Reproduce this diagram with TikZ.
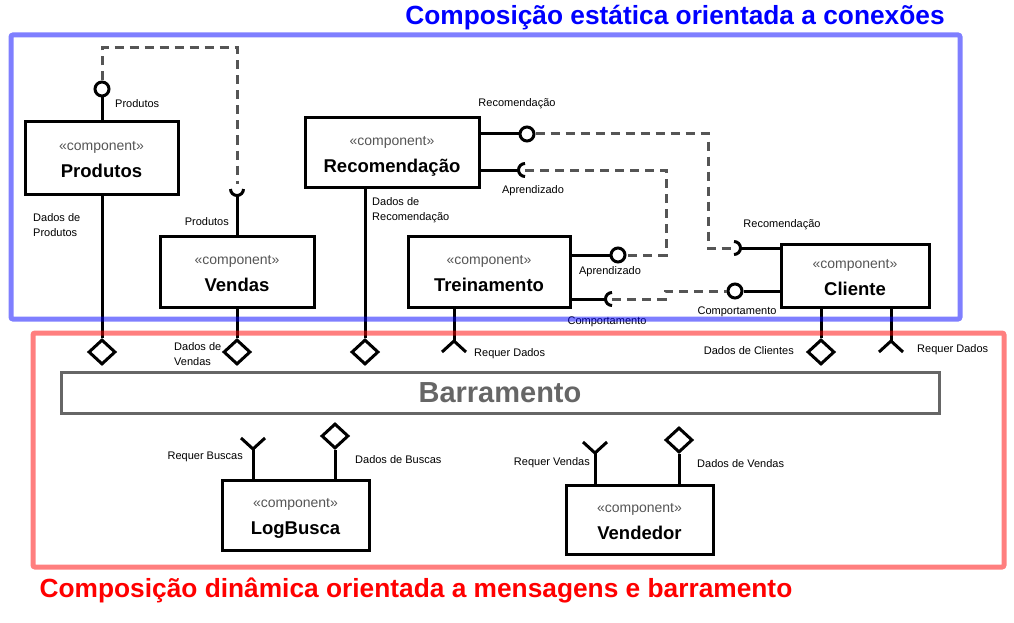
\documentclass[tikz,border=0pt]{standalone}
\usepackage{fontspec}
\setmainfont{Liberation Sans}
\usepackage{xcolor}
\usepackage{tikz}
\usetikzlibrary{positioning,shapes.geometric}

\definecolor{stereo}{HTML}{555555}
\definecolor{depgray}{HTML}{555555}
\definecolor{busgray}{HTML}{666666}
\definecolor{titleblue}{HTML}{0000FF}
\definecolor{titlered}{HTML}{FF0000}

\newcommand{\cmpnt}[1]{{\fontsize{14}{16}\selectfont\color{stereo}\rule{0pt}{17.5pt}«component»}\\[10pt]{\fontsize{18.5}{22}\selectfont\bfseries #1\rule[-5pt]{0pt}{5pt}}}

\begin{document}
\begin{tikzpicture}[x=1pt, y=-1pt,
  comp/.style={draw, line width=3pt, align=center, inner sep=0pt},
  wire/.style={line width=3pt},
  dep/.style={line width=3pt, depgray, dash pattern=on 9pt off 6pt},
  lolli/.style={circle, draw, line width=3pt, minimum size=14pt, inner sep=0pt},
  prov/.style={diamond, draw, line width=3pt, minimum width=27pt, minimum height=25pt, inner sep=0pt},
  lbl/.style={font=\fontsize{11}{15}\selectfont, align=left, inner sep=0pt},
  frame/.style={line width=5pt, draw opacity=.5, rounded corners=2pt}]
\useasboundingbox (0,0) rectangle (1014,623);

% componentes
\node[comp, minimum width=153pt, minimum height=72pt] (produtos) at (101.5,158) {\cmpnt{Produtos}};
\node[comp, minimum width=154pt, minimum height=71pt] (vendas) at (237,271.5) {\cmpnt{Vendas}};
\node[comp, minimum width=174pt, minimum height=69pt] (recom) at (392,152.5) {\cmpnt{Recomendação}};
\node[comp, minimum width=162pt, minimum height=71pt] (treino) at (489,271.5) {\cmpnt{Treinamento}};
\node[comp, minimum width=148pt, minimum height=63pt] (cliente) at (855,275.5) {\cmpnt{Cliente}};
\node[comp, minimum width=147pt, minimum height=70pt] (logbusca) at (295.5,515) {\cmpnt{LogBusca}};
\node[comp, minimum width=147pt, minimum height=69pt] (vendedor) at (639.5,519.5) {\cmpnt{Vendedor}};
\node[draw=busgray, line width=3pt, minimum width=878pt, minimum height=41pt, text=busgray,
      font=\fontsize{29}{32}\selectfont\bfseries] (bus) at (500,393) {Barramento};

% interfaces fornecidas / requeridas
\node[lolli] (iProd) at (102,89) {};
\node[lolli] (iRec) at (527,134) {};
\node[lolli] (iTreA) at (618,255) {};
\node[lolli] (iCliC) at (735,291) {};
\coordinate (sVend) at (237,189);
\coordinate (sRecA) at (525,170);
\coordinate (sTreC) at (612,299);
\coordinate (sCliR) at (734,248);

\draw[wire] (produtos.north -| iProd) -- (iProd.south);
\draw[wire] (recom.east |- iRec) -- (iRec.west);
\draw[wire] (treino.east |- iTreA) -- (iTreA.west);
\draw[wire] (cliente.west |- iCliC) -- (iCliC.east);
\draw[wire] ([xshift=-6.5pt]sVend) arc[start angle=180, end angle=360, radius=6.5pt];
\draw[wire] ([yshift=-6.5pt]sVend) -- (vendas.north -| sVend);
\draw[wire] ([yshift=6.5pt]sRecA) arc[start angle=90, end angle=270, radius=6.5pt];
\draw[wire] (recom.east |- sRecA) -- ([xshift=-6.5pt]sRecA);
\draw[wire] ([yshift=6.5pt]sTreC) arc[start angle=90, end angle=270, radius=6.5pt];
\draw[wire] (treino.east |- sTreC) -- ([xshift=-6.5pt]sTreC);
\draw[wire] ([yshift=-6.5pt]sCliR) arc[start angle=-90, end angle=90, radius=6.5pt];
\draw[wire] ([xshift=6.5pt]sCliR) -- (cliente.west |- sCliR);

% dependencias tracejadas
\draw[dep] (iProd.north) |- (170,48) -| ([yshift=5pt]sVend);
\draw[dep] (iRec.east) -| (708,200) |- (sCliR);
\draw[dep] (sRecA) -| (666,210) |- (iTreA.east);
\draw[dep] (sTreC) -| (665,295) |- (iCliC.west);

% portas no barramento
\foreach \n/\c/\x in {dProd/produtos/102, dVen/vendas/237, dRec/recom/365, dCli/cliente/821} {
  \node[prov] (\n) at (\x,352) {};
  \draw[wire] (\c.south -| \n) -- (\n.north);
}
\foreach \n/\c/\x in {rTre/treino/454, rCli/cliente/891} {
  \coordinate (\n) at (\x,341);
  \draw[wire] (\c.south -| \n) -- (\n);
  \draw[wire] ([shift={(-12pt,-11pt)}]\n) -- (\n) -- ([shift={(12pt,-11pt)}]\n);
}
\node[prov] (dLog) at (335,436) {};
\node[prov] (dVdd) at (679,440) {};
\draw[wire] (logbusca.north -| dLog) -- (dLog.south);
\draw[wire] (vendedor.north -| dVdd) -- (dVdd.south);
\coordinate (rLog) at (253,449);
\coordinate (rVdd) at (595,453);
\foreach \n/\c in {rLog/logbusca, rVdd/vendedor} {
  \draw[wire] (\c.north -| \n) -- (\n);
  \draw[wire] ([shift={(-12pt,11pt)}]\n) -- (\n) -- ([shift={(12pt,11pt)}]\n);
}

% rotulos
\node[lbl, anchor=west] (lProd) at (115,104) {Produtos};
\node[lbl, anchor=west] (lDProd) at (33,225.5) {Dados de\\Produtos};
\node[lbl, anchor=east] (lVProd) at (229,222) {Produtos};
\node[lbl, anchor=west] (lDVen) at (174,354) {Dados de\\Vendas};
\node[lbl, anchor=west] (lDRec) at (372,210) {Dados de\\Recomendação};
\node[lbl] (lRec) at (517,104) {Recomendação};
\node[lbl] (lAprR) at (533,191) {Aprendizado};
\node[lbl] (lAprT) at (610,272) {Aprendizado};
\node[lbl] (lRecC) at (782,225) {Recomendação};
\node[lbl] (lCompT) at (607,322) {Comportamento};
\node[lbl] (lCompC) at (737,312) {Comportamento};
\node[lbl, anchor=west] (lReqT) at (474,354) {Requer Dados};
\node[lbl, anchor=east] (lDCli) at (794,351) {Dados de Clientes};
\node[lbl, anchor=west] (lReqC) at (917,350) {Requer Dados};
\node[lbl, anchor=east] (lReqB) at (243,457) {Requer Buscas};
\node[lbl, anchor=west] (lDBus) at (355,460) {Dados de Buscas};
\node[lbl, anchor=east] (lReqV) at (590,463) {Requer Vendas};
\node[lbl, anchor=west] (lDVdd) at (697,464) {Dados de Vendas};

% molduras e titulos
\draw[frame, titleblue] (11,35) rectangle (960,319);
\draw[frame, titlered] (33,333) rectangle (1004,567);
\node[text=titleblue, font=\fontsize{26.3}{29}\selectfont\bfseries] (tEst) at (675,18) {Composição estática orientada a conexões};
\node[text=titlered, font=\fontsize{26.3}{29}\selectfont\bfseries] (tDin) at (416,590) {Composição dinâmica orientada a mensagens e barramento};
\end{tikzpicture}
\end{document}
